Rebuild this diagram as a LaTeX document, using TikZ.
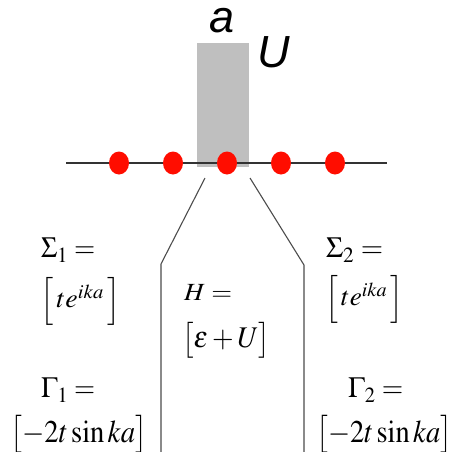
\documentclass[tikz,border=0pt]{standalone}
\usepackage{mathptmx}
\usepackage{graphicx}
\usepackage{fontspec}
\setmainfont{Liberation Serif}
\newfontfamily\labelfont{Liberation Sans}
\newcommand{\eqat}[6]{% x1 y1 w h name content
  \node[eqn, anchor=north west] (#5) at (#1,#2) {\resizebox*{#3pt}{#4pt}{$#6$}};}
\begin{document}
\begin{tikzpicture}[x=1pt,y=-1pt,
  site/.style={fill=red!90!orange, draw=none},
  wire/.style={draw=black!70, line width=1.1pt},
  eqn/.style={inner sep=0pt, font=\fontsize{24}{28}\selectfont},
  biglabel/.style={inner sep=0pt, anchor=base, text height=24pt, text depth=0pt,
    font=\fontsize{45}{50}\selectfont\labelfont\itshape}]
\useasboundingbox (0,0) rectangle (452,452);
\fill[black!25] (197,43) rectangle (249,167);
\draw[wire, black!80, line width=1.3pt] (66,163) coordinate (L) -- (387,163) coordinate (R);
\foreach \i/\x in {1/119,2/173,3/227,4/281,5/335}
  \fill[site] (\x,163) ellipse [x radius=10, y radius=11.5];
\node[biglabel] (a) at (222,33) {a};
\node[biglabel, text height=33pt] (U) at (274,67) {U};
\coordinate (l0) at (205,178);
\coordinate (l1) at (161,264);
\coordinate (l2) at (161,452);
\coordinate (r0) at (250,178);
\coordinate (r1) at (304,265);
\coordinate (r2) at (304,452);
\draw[wire] (l0) -- (l1) -- (l2);
\draw[wire] (r0) -- (r1) -- (r2);
\eqat{41}{238}{54}{24}{s1}{\Sigma_1 =}
\eqat{40}{277}{80}{48}{s1v}{\Big[\,te^{ika}\,\Big]}
\eqat{41}{378}{54}{24}{g1}{\Gamma_1 =}
\eqat{10}{415}{137}{38}{g1v}{\big[\mathord{-}2t\sin ka\big]}
\eqat{184}{284}{48}{16}{h}{H =}
\eqat{182}{322}{88}{36}{hv}{\big[\varepsilon+U\big]}
\eqat{326}{238}{57}{24}{s2}{\Sigma_2 =}
\eqat{325}{275}{78}{48}{s2v}{\Big[\,te^{ika}\,\Big]}
\eqat{348}{378}{55}{24}{g2}{\Gamma_2 =}
\eqat{316}{415}{136}{38}{g2v}{\big[\mathord{-}2t\sin ka\big]}
\end{tikzpicture}
\end{document}
